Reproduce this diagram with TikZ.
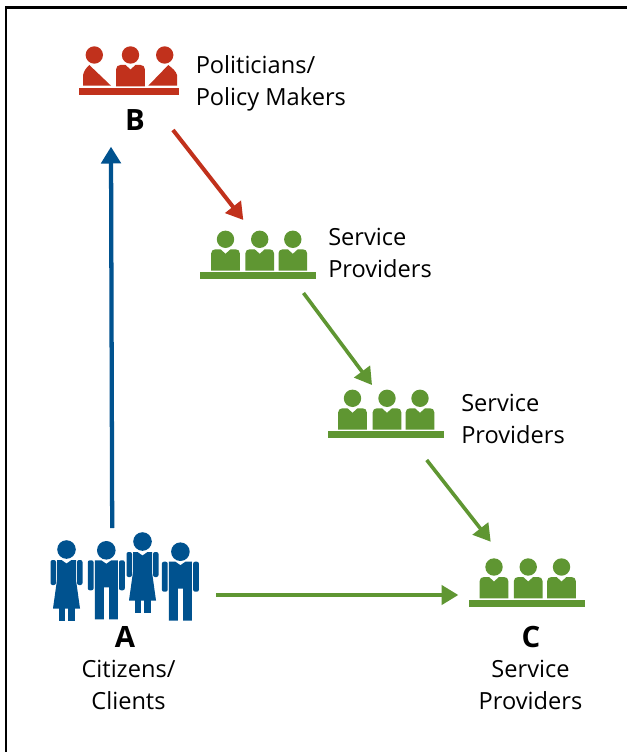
\documentclass[tikz,border=0pt]{standalone}
\usepackage{fontspec}
\setmainfont{Open Sans}
\usetikzlibrary{arrows.meta}
\definecolor{cred}{HTML}{C1311C}
\definecolor{cgreen}{HTML}{5F9632}
\definecolor{cblue}{HTML}{00528F}
\tikzset{
 lbl/.style={font=\fontsize{17.7}{24}\selectfont,align=left,anchor=west,inner sep=0pt,text=black},
 lblc/.style={font=\fontsize{17.7}{24}\selectfont,align=center,inner sep=0pt,text=black},
 letter/.style={font=\fontsize{22}{24}\selectfont\bfseries,inner sep=0pt,text=black},
 conn/.style={-{Triangle[length=12.6pt,width=14.5pt]}},
}
% seated person: #1 x centre, #2 y of shoulder top, #3 colour
\newcommand{\seated}[3]{%
 \fill[#3] (#1,#2-10) circle [radius=8.7];
 \fill[#3] (#1-14.3,#2+21.4) -- (#1-14.3,#2+4) .. controls (#1-14.3,#2+1.5) and (#1-12.5,#2) .. (#1-10,#2)
  -- (#1-5,#2) -- (#1,#2+4.5) -- (#1+5,#2) -- (#1+10,#2) .. controls (#1+12.5,#2) and (#1+14.3,#2+1.5) .. (#1+14.3,#2+4)
  -- (#1+14.3,#2+21.4) -- cycle;}
% man: #1 x centre, #2 y of shoulder
\newcommand{\manfig}[2]{%
 \fill[cblue] (#1,#2-10) circle [radius=9.3];
 \fill[cblue] (#1-11.5,#2) -- (#1-5,#2) -- (#1,#2+3.5) -- (#1+5,#2) -- (#1+11.5,#2) -- (#1+11.5,#2+59) -- (#1+2.8,#2+59)
   -- (#1+2.8,#2+27) -- (#1-2.5,#2+27) -- (#1-2.5,#2+59) -- (#1-11.5,#2+59) -- cycle;
 \fill[cblue,rounded corners=1.5pt] (#1-18.5,#2+30) -- (#1-18.5,#2) -- (#1-12.7,#2) -- (#1-12.7,#2+30) -- cycle;
 \fill[cblue,rounded corners=1.5pt] (#1+12.7,#2+30) -- (#1+12.7,#2) -- (#1+18.5,#2) -- (#1+18.5,#2+30) -- cycle;}
% woman: #1 x centre, #2 y of shoulder
\newcommand{\womanfig}[2]{%
 \fill[cblue] (#1,#2-10.5) circle [radius=9.3];
 \fill[cblue] (#1-9.5,#2) -- (#1-5,#2) -- (#1,#2+3.5) -- (#1+5,#2) -- (#1+9.5,#2) -- (#1+9.5,#2+20) -- (#1+13.5,#2+48.5) -- (#1-13.5,#2+48.5) -- (#1-9.5,#2+20) -- cycle;
 \fill[cblue] (#1-7.4,#2+48) rectangle (#1-1.2,#2+61);
 \fill[cblue] (#1+1.8,#2+48) rectangle (#1+8,#2+61);
 \fill[cblue,rounded corners=1.5pt] (#1-16,#2+25) -- (#1-16,#2) -- (#1-10.5,#2) -- (#1-10.5,#2+25) -- cycle;
 \fill[cblue,rounded corners=1.5pt] (#1+10.5,#2+25) -- (#1+10.5,#2) -- (#1+16,#2) -- (#1+16,#2+25) -- cycle;}
\begin{document}
\begin{tikzpicture}[x=0.75pt,y=-0.75pt]
\useasboundingbox (0,0) rectangle (627,752);
\fill[white] (0,0) rectangle (627,752);
\draw[line width=1.7pt,black] (6.3,760) -- (6.3,7.5) -- (635,7.5);
% B group
\fill[cred] (94.3,55) circle [radius=8.7];
\fill[cred] (164.7,55) circle [radius=8.7];
\fill[cred] (83,85.7) -- (83,75) .. controls (84,71) and (86,68) .. (89.3,65) -- (111,85.7) -- cycle;
\seated{130.5}{65}{cred}
\fill[cred] (177,85.7) -- (177,75) .. controls (176,71) and (172,68) .. (168.3,65) -- (148.3,85.7) -- cycle;
\fill[cred] (79,88) rectangle (179,94.7);
\node[letter] (b) at (135,120.5) {B};
\node[lbl] (bl) at (195.5,83.5) {Politicians/\\Policy Makers};
% Service Providers 1
\seated{225.5}{249.3}{cgreen}\seated{259.7}{249.3}{cgreen}\seated{292.8}{249.3}{cgreen}
\fill[cgreen] (200,271.7) rectangle (316,278.7);
\node[lbl] (s1) at (328,253) {Service\\Providers};
% Service Providers 2
\seated{352.5}{408.3}{cgreen}\seated{387}{408.3}{cgreen}\seated{420}{408.3}{cgreen}
\fill[cgreen] (328,431) rectangle (444,438);
\node[lbl] (s2) at (461,419) {Service\\Providers};
% C
\seated{494}{577}{cgreen}\seated{528.2}{577}{cgreen}\seated{561.5}{577}{cgreen}
\fill[cgreen] (469,600) rectangle (585,606.8);
\node[letter] (c) at (531,637) {C};
\node[lblc] (cl) at (530.5,685) {Service\\Providers};
% A
\womanfig{66.5}{560}
\manfig{106.3}{560.3}
\womanfig{142.5}{552}
\manfig{180.4}{561.7}
\node[letter] (a) at (125,637) {A};
\node[lblc] (al) at (128.5,685) {Citizens/\\Clients};
% connector ends
\coordinate (a1) at (112.2,528);
\coordinate (a2) at (111,146.7);
\coordinate (r1) at (173,130);
\coordinate (r2) at (243.3,220);
\coordinate (g1) at (303.5,293);
\coordinate (g2) at (372,385);
\coordinate (g3) at (426.7,460);
\coordinate (g4) at (490.7,541.7);
\coordinate (h1) at (216,595);
\coordinate (h2) at (458.3,595);
\draw[conn,cblue,line width=3.2pt] (a1) -- (a2);
\draw[conn,cred,line width=3pt] (r1) -- (r2);
\draw[conn,cgreen,line width=2.7pt] (g1) -- (g2);
\draw[conn,cgreen,line width=2.7pt] (g3) -- (g4);
\draw[conn,cgreen,line width=2.7pt] (h1) -- (h2);
\end{tikzpicture}
\end{document}
